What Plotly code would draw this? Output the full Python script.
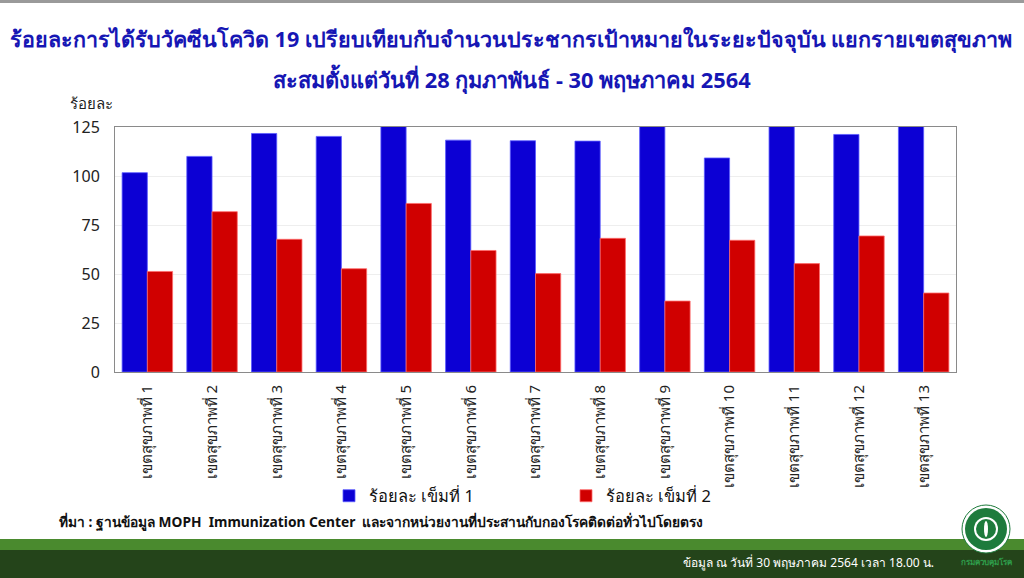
import plotly.graph_objects as go

categories = [f"เขตสุขภาพที่ {i}" for i in range(1, 14)]
dose1 = [101.7, 110.0, 121.7, 120.2, 135.0, 118.3, 118.0, 117.8, 131.0, 109.2, 133.0, 121.2, 129.0]
dose2 = [51.3, 81.8, 67.7, 52.7, 86.0, 62.0, 50.2, 68.2, 36.2, 67.2, 55.3, 69.4, 40.3]
y_ticks = [0, 25, 50, 75, 100, 125]
series_names = ["ร้อยละ เข็มที่ 1", "ร้อยละ เข็มที่ 2"]

title1 = "ร้อยละการได้รับวัคซีนโควิด 19 เปรียบเทียบกับจำนวนประชากรเป้าหมายในระยะปัจจุบัน แยกรายเขตสุขภาพ"
title2 = "สะสมตั้งแต่วันที่ 28 กุมภาพันธ์ - 30 พฤษภาคม 2564"
source = "ที่มา : ฐานข้อมูล MOPH  Immunization Center  และจากหน่วยงานที่ประสานกับกองโรคติดต่อทั่วไปโดยตรง"
footnote = "ข้อมูล ณ วันที่ 30 พฤษภาคม 2564 เวลา 18.00 น."
logo_text = "กรมควบคุมโรค"

W, H = 1024, 578
L, R, T, B = 115, 956, 127, 372


def px(x):
    return (x - L) / (R - L)


def py(y):
    return (B - y) / (B - T)


FONT = "Noto Sans, Tahoma, sans-serif"
GREEN = "#1e7b3c"

fig = go.Figure()
fig.add_trace(go.Bar(x=categories, y=dose1, name=series_names[0],
                     marker=dict(color="#0c00d4", line=dict(color="#5a5aff", width=0.8))))
fig.add_trace(go.Bar(x=categories, y=dose2, name=series_names[1],
                     marker=dict(color="#d00000", line=dict(color="#ff6a6a", width=0.8))))


def rect(x0, x1, y0, y1, color):
    return dict(type="rect", xref="paper", yref="paper", x0=px(x0), x1=px(x1), y0=py(y0), y1=py(y1),
                fillcolor=color, line=dict(width=0), layer="below")


def circ(x0, x1, y0, y1, fill, line=None):
    return dict(type="circle", xref="paper", yref="paper", x0=px(x0), x1=px(x1), y0=py(y0), y1=py(y1),
                fillcolor=fill, line=line or dict(width=0))


shapes = [
    rect(0, W, 0, 3, "#9a9a9a"),
    rect(0, W, 539, 550, "#4a8a2e"),
    rect(0, W, 550, H, "#24441a"),
    circ(962, 1010, 505, 553, "#ffffff", dict(color=GREEN, width=1)),
    circ(965, 1007, 508, 550, GREEN),
    circ(974, 998, 517, 541, "#ffffff"),
    circ(976, 996, 519, 539, GREEN),
    circ(984, 988, 521, 537, "#ffffff"),
]

annotations = [
    dict(text=f"<b>{title1}</b>", x=px(511), y=py(39), xref="paper", yref="paper",
         showarrow=False, xanchor="center", yanchor="middle",
         font=dict(family=FONT, size=21.5, color="#1616b4")),
    dict(text=f"<b>{title2}</b>", x=px(512), y=py(79), xref="paper", yref="paper",
         showarrow=False, xanchor="center", yanchor="middle",
         font=dict(family=FONT, size=21.8, color="#1616b4")),
    dict(text="ร้อยละ", x=px(91), y=py(103), xref="paper", yref="paper",
         showarrow=False, xanchor="center", yanchor="middle",
         font=dict(family=FONT, size=15, color="#222222")),
    dict(text=f"<b>{source}</b>", x=px(57), y=py(522), xref="paper", yref="paper",
         showarrow=False, xanchor="left", yanchor="middle",
         font=dict(family=FONT, size=13.75, color="#111111")),
    dict(text=footnote, x=px(936), y=py(562), xref="paper", yref="paper",
         showarrow=False, xanchor="right", yanchor="middle",
         font=dict(family=FONT, size=12, color="#ffffff")),
    dict(text=f"<b>{logo_text}</b>", x=px(986), y=py(562), xref="paper", yref="paper",
         showarrow=False, xanchor="center", yanchor="middle",
         font=dict(family=FONT, size=8, color="#2f9e4c")),
]

fig.update_layout(
    width=W, height=H,
    margin=dict(l=L, r=W - R, t=T, b=H - B),
    paper_bgcolor="#ffffff", plot_bgcolor="#ffffff",
    barmode="group", bargap=0.22, bargroupgap=0,
    showlegend=True,
    legend=dict(orientation="h", x=px(329), xanchor="left", y=py(496), yanchor="middle",
                font=dict(family=FONT, size=16.5, color="#111111"),
                entrywidth=192, itemwidth=30, bgcolor="rgba(0,0,0,0)"),
    shapes=shapes,
    annotations=annotations,
    font=dict(family=FONT, color="#222222"),
)

fig.update_xaxes(
    tickangle=-90, tickfont=dict(family=FONT, size=15, color="#222222"),
    showline=True, linecolor="#8a8a8a", linewidth=1, mirror=True,
    showgrid=False, ticks="outside", ticklen=6, tickcolor="rgba(0,0,0,0)", fixedrange=True,
)
fig.update_yaxes(
    range=[0, 125], tickvals=y_ticks, ticktext=[str(v) for v in y_ticks],
    tickfont=dict(family=FONT, size=16, color="#222222"),
    showline=True, linecolor="#8a8a8a", linewidth=1, mirror=True,
    showgrid=True, gridcolor="#eeeeee", gridwidth=1, zeroline=False,
    ticks="outside", ticklen=11, tickcolor="rgba(0,0,0,0)",
)

fig.write_html("out.html", config={"displayModeBar": False},
               post_script="document.body.style.margin='0';document.body.style.padding='0';")
